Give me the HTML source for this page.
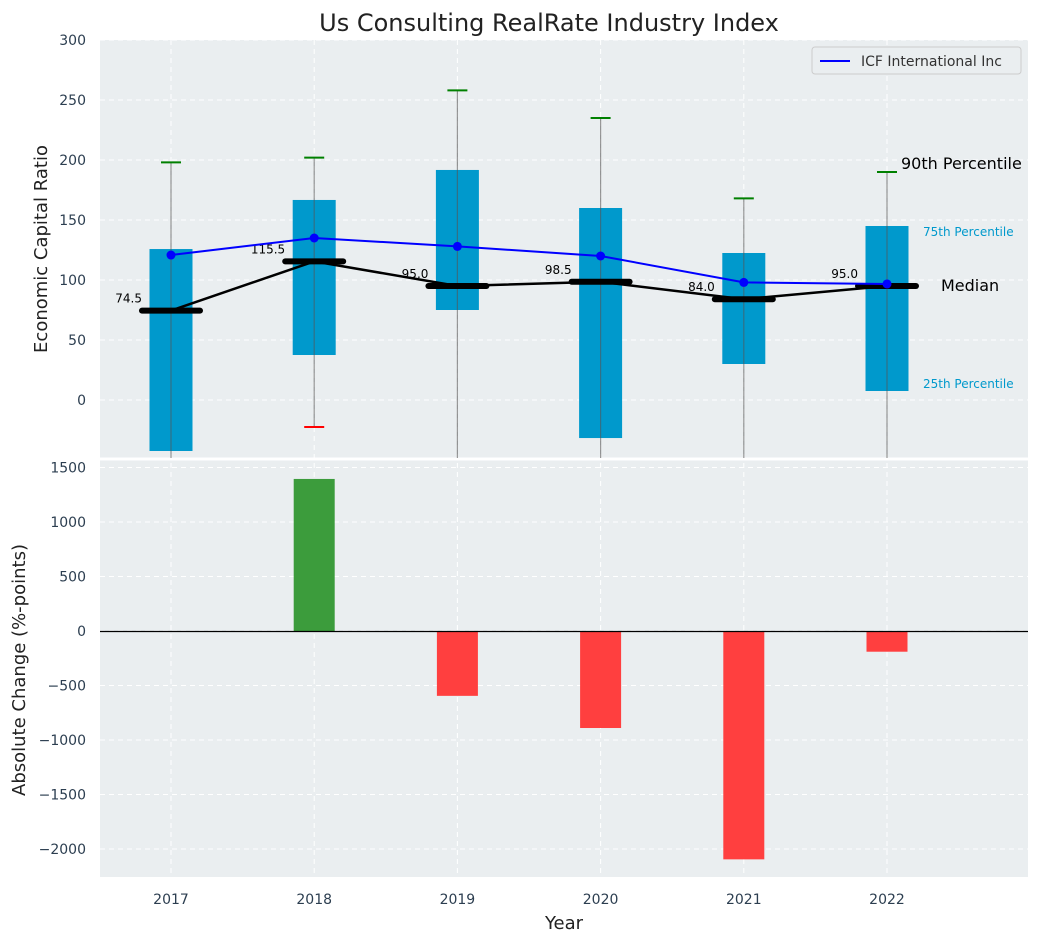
<!DOCTYPE html>
<html><head><meta charset="utf-8">
<style>
body{margin:0;background:#fff;font-family:"Liberation Sans","DejaVu Sans",sans-serif;}
svg{display:block}
</style></head>
<body>
<svg id="chart" width="1039" height="942" xmlns="http://www.w3.org/2000/svg" font-family="DejaVu Sans, Liberation Sans, sans-serif">
<defs>
<clipPath id="ctop"><rect x="100" y="40" width="928" height="418"/></clipPath>
<clipPath id="cbot"><rect x="100" y="458" width="928" height="419"/></clipPath>
</defs>
<rect x="100" y="40" width="928" height="418" fill="#eaeef0"/>
<rect x="100" y="460" width="928" height="417" fill="#eaeef0"/>
<g id="grid"></g>
<g id="top" clip-path="url(#ctop)"></g>
<g id="bot" clip-path="url(#cbot)"></g>
<g id="axes"></g>
<text x="549" y="31" text-anchor="middle" font-size="24" fill="#222">Us Consulting RealRate Industry Index</text>
<text transform="translate(47,249) rotate(-90)" text-anchor="middle" font-size="18" fill="#222">Economic Capital Ratio</text>
<text transform="translate(25,670) rotate(-90)" text-anchor="middle" font-size="18" fill="#222">Absolute Change (%-points)</text>
<text x="564" y="929" text-anchor="middle" font-size="18" fill="#222">Year</text>
<g>
<rect x="812" y="47" width="209" height="27" fill="#eaeef0" stroke="#ccc" rx="3"/>
<line x1="820" y1="61" x2="850" y2="61" stroke="#0000ff" stroke-width="2"/>
<text x="861" y="66" font-size="14" fill="#333">ICF International Inc</text>
</g>
<text x="901" y="169" font-size="16" fill="#000">90th Percentile</text>
<text x="923" y="236" font-size="12" fill="#0099cc">75th Percentile</text>
<text x="941" y="291" font-size="16" fill="#000">Median</text>
<text x="923" y="388" font-size="12" fill="#0099cc">25th Percentile</text>
</svg>
<script>
const years=["2017","2018","2019","2020","2021","2022"];
const q1=[-42.5,37.5,75,-31.7,30,7.5];
const q3=[125.8,166.7,191.7,160,122.5,145];
const medians=[74.5,115.5,95,98.5,84,95];
const whiskerHigh=[198,202,258,235,168,190];
const whiskerLow=[-50,-22.5,-60,-60,-60,-60];
const companyValues=[120.8,135,128,120,98,96.7];
const changes=[0,1395,-595,-890,-2095,-190];
const topTicks=[0,50,100,150,200,250,300];
const botTicks=[-2000,-1500,-1000,-500,0,500,1000,1500];

const NS="http://www.w3.org/2000/svg";
const X=i=>171+i*143.2;
const YT=v=>400-v*1.2;
const YB=v=>631-v*0.109;
function mk(parent,tag,attrs){const e=document.createElementNS(NS,tag);for(const k in attrs)e.setAttribute(k,attrs[k]);document.getElementById(parent).appendChild(e);return e;}

topTicks.forEach(t=>{
  let g=mk('grid','line',{x1:100,x2:1028,y1:YT(t),y2:YT(t),stroke:'#fff','stroke-dasharray':'5,4','stroke-width':1});
  
  
  let l=mk('axes','text',{x:86,y:YT(t)+5,'text-anchor':'end','font-size':14,fill:'#2c3e50'});
  l.textContent=t;
  
  
});
botTicks.forEach(t=>{
  let g=mk('grid','line',{x1:100,x2:1028,y1:YB(t),y2:YB(t),stroke:'#fff','stroke-dasharray':'5,4','stroke-width':1});
  
  
  let l=mk('axes','text',{x:86,y:YB(t)+5,'text-anchor':'end','font-size':14,fill:'#2c3e50'});
  l.textContent=(t<0?'\u2212'+(-t):t);
  
  
});
years.forEach((y,i)=>{
  let g=mk('grid','line',{x1:X(i),x2:X(i),y1:40,y2:877,stroke:'#fff','stroke-dasharray':'5,4','stroke-width':1});
  
  
  let l=mk('axes','text',{x:X(i),y:904,'text-anchor':'middle','font-size':14,fill:'#2c3e50'});
  l.textContent=y;
  
  
});
mk('grid','line',{x1:100,x2:1028,y1:459,y2:459,stroke:'#fff','stroke-width':3});

years.forEach((y,i)=>{
  let b=mk('top','rect',{x:X(i)-21.5,y:YT(q3[i]),width:43,height:YT(q1[i])-YT(q3[i]),fill:'#0099cc'});
  
  
  let w=mk('top','line',{x1:X(i),x2:X(i),y1:YT(whiskerHigh[i]),y2:YT(whiskerLow[i]),stroke:'#555','stroke-opacity':0.6,'stroke-width':1.2});
  
  
  let c=mk('top','line',{x1:X(i)-10,x2:X(i)+10,y1:YT(whiskerHigh[i]),y2:YT(whiskerHigh[i]),stroke:'#008000','stroke-width':2});
  
  
  if(whiskerLow[i]>-48){
    let c2=mk('top','line',{x1:X(i)-10,x2:X(i)+10,y1:YT(whiskerLow[i]),y2:YT(whiskerLow[i]),stroke:'#ff0000','stroke-width':2});
    
    
  }
});
let mp=mk('top','polyline',{points:medians.map((m,i)=>X(i)+','+YT(m)).join(' '),fill:'none',stroke:'#000','stroke-width':2.5});


medians.forEach((m,i)=>{
  let s=mk('top','line',{x1:X(i)-29,x2:X(i)+29,y1:YT(m),y2:YT(m),stroke:'#000','stroke-width':6,'stroke-linecap':'round'});
  
  
  let t=mk('top','text',{x:X(i)-29,y:YT(m)-8,'text-anchor':'end','font-size':12,fill:'#000'});
  t.textContent=m.toFixed(1);
  
  
});
let cp=mk('top','polyline',{points:companyValues.map((v,i)=>X(i)+','+YT(v)).join(' '),fill:'none',stroke:'#0000ff','stroke-width':2});


companyValues.forEach((v,i)=>{
  let d=mk('top','circle',{cx:X(i),cy:YT(v),r:4.5,fill:'#0000ff'});
  
  
});
changes.forEach((v,i)=>{
  if(v===0)return;
  let y0=Math.min(YB(0),YB(v)),h=Math.abs(YB(v)-YB(0));
  let b=mk('bot','rect',{x:X(i)-20.5,y:y0,width:41,height:h,fill:v>0?'#3c9c3c':'#ff3f3f'});
  
  
});
let z=mk('bot','line',{x1:100,x2:1028,y1:YB(0)+0.5,y2:YB(0)+0.5,stroke:'#000','stroke-width':1.3});


</script>
</body></html>
